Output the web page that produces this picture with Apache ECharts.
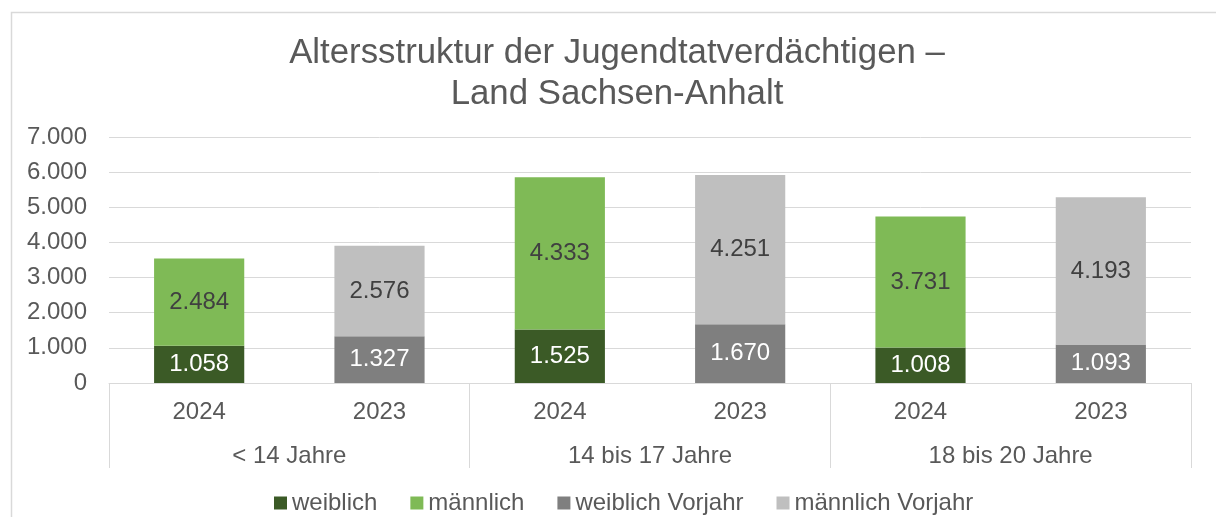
<!DOCTYPE html>
<html>
<head>
<meta charset="utf-8">
<script src="https://cdn.jsdelivr.net/npm/echarts@6/dist/echarts.min.js"></script>
<style>
  html, body { margin: 0; padding: 0; background: #fff; }
  #chart { width: 1216px; height: 517px; }
</style>
</head>
<body>
<div id="chart"></div>
<script>
// Data
const years = ['2024', '2023', '2024', '2023', '2024', '2023']
const groups = ['< 14 Jahre', '14 bis 17 Jahre', '18 bis 20 Jahre']
const weiblich = [1058, null, 1525, null, 1008, null]
const maennlich = [2484, null, 4333, null, 3731, null]
const weiblichVorjahr = [null, 1327, null, 1670, null, 1093]
const maennlichVorjahr = [null, 2576, null, 4251, null, 4193]

const FONT = '"Liberation Sans", Arial, sans-serif'
const TEXT = '#595959'
const LINE = '#d9d9d9'

// 1058 -> "1.058"
const fmt = v => String(Math.round(v)).replace(/\B(?=(\d{3})+(?!\d))/g, '.')

const chart = echarts.init(document.getElementById('chart'))

const makeSeries = (name, data, color, labelColor) => ({
    name,
    type: 'bar',
    stack: 'total',
    xAxisIndex: 0,
    barWidth: '50%',
    data,
    itemStyle: { color },
    label: {
        show: true,
        position: 'inside',
        color: labelColor,
        fontSize: 24,
        fontFamily: FONT,
        formatter: p => (p.value == null ? '' : fmt(p.value))
    }
})

const option = {
    animation: false,
    backgroundColor: '#fff',
    textStyle: { fontFamily: FONT },
    title: {
        text: 'Altersstruktur der Jugendtatverdächtigen –\nLand Sachsen-Anhalt',
        left: 612,
        top: 28,
        textAlign: 'center',
        textStyle: {
            fontSize: 34.8,
            fontWeight: 'normal',
            color: TEXT,
            lineHeight: 41,
            fontFamily: FONT
        }
    },
    graphic: [
        {
            type: 'polyline',
            shape: { points: [[11.5, 520], [11.5, 12.5], [1220, 12.5]] },
            style: { stroke: LINE, lineWidth: 1.5, fill: null }
        }
    ],
    legend: {
        left: 269,
        top: 486,
        icon: 'rect',
        itemWidth: 13,
        itemHeight: 13,
        itemGap: 33,
        textStyle: { fontSize: 24, color: TEXT, fontFamily: FONT },
        data: ['weiblich', 'männlich', 'weiblich Vorjahr', 'männlich Vorjahr']
    },
    grid: {
        left: 109,
        right: 25,
        top: 137,
        bottom: 134
    },
    xAxis: [
        {
            type: 'category',
            data: years,
            axisLine: { show: true, lineStyle: { color: LINE, width: 1 } },
            axisTick: { show: false },
            axisLabel: { fontSize: 24, color: TEXT, margin: 17, fontFamily: FONT }
        },
        {
            type: 'category',
            data: groups,
            position: 'bottom',
            axisLine: { show: false },
            axisTick: { show: true, length: 85, lineStyle: { color: LINE, width: 1 } },
            axisLabel: { fontSize: 24, color: TEXT, margin: 61, fontFamily: FONT }
        }
    ],
    yAxis: {
        type: 'value',
        min: 0,
        max: 7000,
        interval: 1000,
        axisLine: { show: false },
        axisTick: { show: false },
        axisLabel: {
            fontSize: 24,
            color: TEXT,
            margin: 22,
            fontFamily: FONT,
            formatter: v => fmt(v)
        },
        splitLine: { lineStyle: { color: LINE, width: 1 } }
    },
    series: [
        makeSeries('weiblich', weiblich, '#3b5a26', '#ffffff'),
        makeSeries('männlich', maennlich, '#7fba56', '#404040'),
        makeSeries('weiblich Vorjahr', weiblichVorjahr, '#7f7f7f', '#ffffff'),
        makeSeries('männlich Vorjahr', maennlichVorjahr, '#bfbfbf', '#404040')
    ]
}

chart.setOption(option)
</script>
</body>
</html>
